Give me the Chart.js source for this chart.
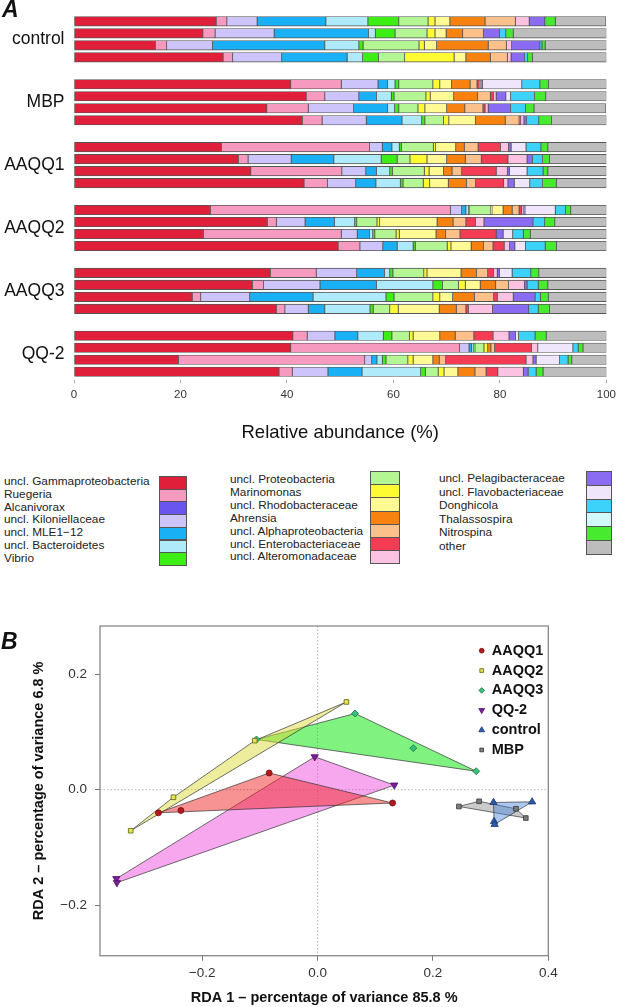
<!DOCTYPE html>
<html>
<head>
<meta charset="utf-8">
<script src="https://cdn.jsdelivr.net/npm/chart.js"></script>
<style>
  html, body { margin: 0; padding: 0; background: #fff; }
  #page { position: relative; width: 621px; height: 1007px; overflow: hidden;
          font-family: "Liberation Sans", Arial, sans-serif; color: #111; }
  canvas { position: absolute; left: 0; display: block; }
  #chartA { top: 0; }
  #chartB { top: 600px; }
  .panel { position: absolute; font-weight: bold; font-style: italic; font-size: 23px; line-height: 23px; }
  .legtext { position: absolute; font-size: 11.8px; color: #222; white-space: nowrap; }
  .legbox { position: absolute; box-sizing: border-box; border: 1px solid #555; }
</style>
</head>
<body>
<div id="page">
  <canvas id="chartA" width="621" height="450"></canvas>
  <canvas id="chartB" width="621" height="407"></canvas>
  <div class="panel" style="left:2px; top:-2px;">A</div>
  <div class="panel" style="left:1px; top:630px;">B</div>
  <div id="legendA"></div>
</div>
<script>
// panel A: taxa (stack order) and their colours
const categories = [
  "uncl. Gammaproteobacteria", "Ruegeria", "Alcanivorax", "uncl. Kiloniellaceae",
  "uncl. MLE1\u221212", "uncl. Bacteroidetes", "Vibrio", "uncl. Proteobacteria",
  "Marinomonas", "uncl. Rhodobacteraceae", "Ahrensia", "uncl. Alphaproteobacteria",
  "uncl. Enterobacteriaceae", "uncl. Alteromonadaceae", "uncl. Pelagibacteraceae",
  "uncl. Flavobacteriaceae", "Donghicola", "Thalassospira", "Nitrospina", "other"
];
const colors = [
  "#e0203a", "#f79ac0", "#6a55ee", "#ccc4fa", "#1ab0f5", "#aeeafa", "#3cee14",
  "#b4f594", "#fffb33", "#fffa94", "#f7820f", "#fcc08a", "#f43c55", "#fbc2e2",
  "#8a6cf2", "#efe6fb", "#3dd2fa", "#d2fafa", "#48ea30", "#bdbdbd"
];
const groups = ["control", "MBP", "AAQQ1", "AAQQ2", "AAQQ3", "QQ-2"];
const xTicks = [0, 20, 40, 60, 80, 100];

// relative abundance (%) per sample, same order as categories
const control = [
  [26.7, 2.0, 0, 5.7, 12.9, 7.9, 5.8, 5.5, 1.3, 2.8, 6.6, 5.7, 0, 2.6, 2.9, 0, 0.2, 0, 1.8, 9.5],
  [24.2, 2.3, 0, 11.1, 17.7, 1.3, 3.7, 6.0, 1.5, 2.1, 3.1, 3.9, 0, 0, 3.0, 0, 1.2, 0, 1.4, 17.5],
  [15.3, 2.1, 0, 8.6, 21.1, 6.4, 0.8, 10.5, 1.0, 2.3, 9.7, 3.4, 0, 1.0, 5.3, 0, 0.4, 0, 0.6, 11.5],
  [28.0, 1.8, 0, 9.2, 12.3, 2.9, 3.0, 4.9, 9.3, 2.2, 4.6, 3.2, 0, 0.7, 2.5, 0, 0.6, 0, 0.9, 13.9]
];
const mbp = [
  [40.7, 9.5, 0, 6.9, 1.8, 1.4, 0.7, 6.4, 1.3, 2.2, 3.5, 1.3, 0.4, 0.3, 0.3, 7.4, 3.4, 0, 1.6, 10.9],
  [43.6, 3.5, 0, 6.4, 3.3, 2.8, 0.5, 6.0, 0.8, 4.4, 4.5, 2.4, 0.6, 0.5, 1.8, 0.9, 4.5, 0, 2.1, 11.4],
  [36.2, 7.8, 0, 8.5, 6.4, 1.3, 0.8, 3.6, 1.3, 4.1, 3.4, 3.4, 0.4, 0.6, 4.2, 0, 2.8, 0, 1.6, 13.5],
  [42.9, 3.7, 0, 8.3, 6.7, 3.7, 0.6, 3.5, 1.0, 5.0, 5.6, 2.6, 0.3, 0.6, 0.5, 0, 2.3, 0, 2.4, 10.3]
];
const aaqq1 = [
  [27.7, 27.8, 0, 2.4, 1.8, 1.4, 0.4, 6.0, 0.4, 3.8, 1.6, 2.6, 4.2, 1.5, 0.5, 2.8, 2.8, 0, 1.3, 11.0],
  [30.9, 1.8, 0, 8.1, 8.0, 8.9, 3.0, 2.4, 3.2, 3.7, 3.5, 3.0, 5.0, 3.6, 1.0, 0, 1.9, 0, 1.3, 10.7],
  [33.2, 17.1, 0, 4.5, 2.0, 2.5, 0.5, 6.0, 0.9, 2.7, 1.6, 1.8, 6.5, 2.1, 0.4, 3.3, 3.0, 0, 0.9, 11.0],
  [43.2, 4.4, 0, 5.3, 3.8, 4.6, 0.5, 3.8, 1.2, 3.5, 3.4, 1.7, 5.3, 0.8, 1.2, 2.9, 2.4, 0, 2.6, 9.4]
];
const aaqq2 = [
  [25.6, 45.1, 0, 2.1, 0.8, 0.5, 0.2, 4.0, 0.2, 2.1, 1.7, 1.3, 0.5, 0.4, 0.2, 5.7, 1.9, 0, 1.0, 6.7],
  [36.3, 1.7, 0, 5.4, 5.5, 3.8, 0.4, 3.8, 0.5, 10.8, 3.0, 2.4, 1.8, 1.6, 9.2, 0, 2.2, 0, 1.9, 9.7],
  [24.3, 25.9, 0, 3.0, 2.3, 0.6, 0.4, 4.0, 0.6, 6.9, 1.8, 2.7, 6.8, 0, 1.3, 1.8, 2.0, 0, 1.3, 14.3],
  [49.6, 4.1, 0, 4.3, 2.7, 3.0, 0.4, 6.0, 0.7, 3.8, 2.3, 1.8, 2.1, 1.0, 1.0, 2.0, 3.7, 0, 2.1, 9.4]
];
const aaqq3 = [
  [36.9, 8.6, 0, 7.6, 5.2, 1.0, 0.6, 5.8, 0.6, 6.4, 2.9, 2.1, 1.1, 0.7, 0.4, 2.4, 3.5, 0, 1.5, 12.7],
  [33.5, 2.1, 0, 10.6, 10.6, 10.6, 1.8, 3.0, 1.3, 2.8, 2.9, 2.4, 0, 3.0, 0.5, 0, 2.1, 0, 1.8, 11.0],
  [22.2, 1.6, 0, 9.2, 11.9, 13.7, 1.5, 7.3, 1.3, 2.4, 4.1, 3.6, 0.7, 3.0, 4.1, 0, 1.0, 0, 1.5, 10.9],
  [38.0, 1.6, 0, 4.4, 3.1, 8.5, 0.6, 3.1, 1.6, 7.7, 3.2, 1.8, 0.5, 4.5, 6.8, 0, 1.8, 0, 2.1, 10.7]
];
const qq2 = [
  [41.1, 2.7, 0, 5.2, 4.3, 4.8, 1.6, 3.3, 0.7, 5.0, 2.9, 3.5, 3.6, 3.0, 1.2, 0.6, 3.1, 0, 2.1, 11.3],
  [40.7, 31.7, 0, 1.8, 0.5, 0.4, 0.2, 1.7, 0.7, 0, 0.6, 0.7, 6.9, 1.2, 0, 6.6, 1.0, 0, 0.9, 4.4],
  [19.6, 35.0, 0, 1.3, 1.0, 1.0, 0.7, 4.1, 1.0, 3.7, 1.2, 1.2, 15.1, 1.3, 0.6, 4.4, 1.6, 0, 0.7, 6.5],
  [38.5, 2.5, 0, 6.7, 6.4, 11.0, 0.9, 2.4, 1.1, 2.6, 3.2, 2.1, 2.2, 4.8, 0.9, 0, 1.5, 0, 1.3, 11.9]
];
const samples = [control, mbp, aaqq1, aaqq2, aaqq3, qq2];

// panel B: RDA site scores
const aaqq1X = [-0.084, -0.276, -0.237, 0.130];
const aaqq1Y = [0.029, -0.040, -0.036, -0.023];
const aaqq2X = [-0.324, -0.250, -0.109, 0.050];
const aaqq2Y = [-0.071, -0.013, 0.085, 0.152];
const aaqq3X = [-0.106, 0.065, 0.166, 0.275];
const aaqq3Y = [0.087, 0.132, 0.072, 0.032];
const qq2X = [-0.005, 0.133, -0.349, -0.348];
const qq2Y = [0.057, 0.008, -0.154, -0.161];
const controlX = [0.305, 0.372, 0.306, 0.307];
const controlY = [-0.022, -0.021, -0.055, -0.060];
const mbpX = [0.245, 0.280, 0.344, 0.361];
const mbpY = [-0.029, -0.020, -0.033, -0.049];
const xTicksB = [-0.2, 0, 0.2, 0.4];
const yTicksB = [-0.2, 0, 0.2];

const FONT = '"Liberation Sans", Arial, sans-serif';
Chart.defaults.font.family = FONT;

// ---------- panel A ----------
const GROUP_STEP = 5.24;   // rows per group incl. gap
const rowPos = (g, i) => g * GROUP_STEP + i;

const barDatasets = categories.map((name, c) => ({
  label: name,
  backgroundColor: colors[c],
  borderColor: "#555",
  borderWidth: 0.8,
  borderSkipped: false,
  barThickness: 9.4,
  data: samples
    .flatMap((rows, g) => rows.map((r, i) => ({ x: r[c], y: rowPos(g, i) })))
    .filter(p => p.x > 0)
}));

const groupLabels = {
  id: "groupLabels",
  afterDraw(chart) {
    const { ctx, chartArea, scales: { y } } = chart;
    ctx.save();
    ctx.font = "17.5px " + FONT;
    ctx.fillStyle = "#111";
    ctx.textAlign = "right";
    ctx.textBaseline = "middle";
    groups.forEach((g, k) => {
      ctx.fillText(g, chartArea.left - 9.5, y.getPixelForValue(rowPos(k, 1.5)));
    });
    ctx.restore();
  }
};

new Chart(document.getElementById("chartA"), {
  type: "bar",
  data: { datasets: barDatasets },
  options: {
    responsive: false,
    animation: false,
    indexAxis: "y",
    layout: { padding: { left: 74, right: 9, top: 5.75, bottom: 0 } },
    plugins: { legend: { display: false }, tooltip: { enabled: false } },
    scales: {
      x: {
        type: "linear", stacked: true, min: 0, max: 100, offset: false,
        afterBuildTicks: s => { s.ticks = xTicks.map(v => ({ value: v })); },
        afterFit: s => { s.height = 69.85; },
        grid: { drawOnChartArea: false, drawTicks: true, tickLength: 3, color: "#aaa" },
        border: { display: false },
        ticks: { padding: 5, font: { size: 11.5 }, color: "#333", maxRotation: 0 },
        title: { display: true, text: "Relative abundance (%)", font: { size: 18.5 },
                 color: "#111", padding: { top: 0, bottom: 5.9 } }
      },
      y: {
        type: "linear", stacked: true, reverse: true, min: -1.3, max: 29.9,
        offset: false, display: false, grid: { offset: false }
      }
    }
  },
  plugins: [groupLabels]
});

// legend for panel A, three columns, text left and colour box right
const legendCols = [
  { start: 0, count: 7, textX: 4, boxX: 159, boxW: 28, top: 476, boxH: 12.7, textTop: 481, pitch: 12.8 },
  { start: 7, count: 7, textX: 230, boxX: 370, boxW: 29.5, top: 471, boxH: 13.2, textTop: 479, pitch: 12.9 },
  { start: 14, count: 6, textX: 439, boxX: 586, boxW: 26, top: 471, boxH: 13.8, textTop: 478.3, pitch: 13.5 }
];
const legendA = document.getElementById("legendA");
legendCols.forEach(col => {
  for (let k = 0; k < col.count; k++) {
    const c = col.start + k;
    const t = document.createElement("div");
    t.className = "legtext";
    t.textContent = categories[c];
    t.style.left = col.textX + "px";
    t.style.top = (col.textTop + k * col.pitch - 7) + "px";
    t.style.lineHeight = "14px";
    legendA.appendChild(t);
    const b = document.createElement("div");
    b.className = "legbox";
    b.style.left = col.boxX + "px";
    b.style.width = col.boxW + "px";
    b.style.top = (col.top + k * col.boxH) + "px";
    b.style.height = (col.boxH + 1) + "px";
    b.style.background = colors[c];
    legendA.appendChild(b);
  }
});

// ---------- panel B ----------
const groupsB = [
  { label: "AAQQ1", xs: aaqq1X, ys: aaqq1Y, style: "circle", r: 3, rot: 0,
    point: "#b3191c", edge: "#7d0c0e", fill: "rgba(240,40,40,0.5)" },
  { label: "AAQQ2", xs: aaqq2X, ys: aaqq2Y, style: "rect", r: 3.3, rot: 0,
    point: "#e2e255", edge: "#5c6410", fill: "rgba(220,220,60,0.5)" },
  { label: "AAQQ3", xs: aaqq3X, ys: aaqq3Y, style: "rectRot", r: 3.5, rot: 0,
    point: "#36c27a", edge: "#1f6e42", fill: "rgba(0,230,0,0.5)" },
  { label: "QQ-2", xs: qq2X, ys: qq2Y, style: "triangle", r: 4.2, rot: 180,
    point: "#7a2096", edge: "#4e0f66", fill: "rgba(240,80,220,0.5)" },
  { label: "control", xs: controlX, ys: controlY, style: "triangle", r: 4.2, rot: 0,
    point: "#2c5aa6", edge: "#1a3a74", fill: "rgba(70,130,220,0.45)" },
  { label: "MBP", xs: mbpX, ys: mbpY, style: "rect", r: 3.3, rot: 0,
    point: "#7c7c7c", edge: "#333", fill: "rgba(140,140,140,0.45)" }
];

function hull(pts) {
  const p = pts.slice().sort((a, b) => a.x - b.x || a.y - b.y);
  const cross = (o, a, b) => (a.x - o.x) * (b.y - o.y) - (a.y - o.y) * (b.x - o.x);
  const lower = [], upper = [];
  for (const q of p) {
    while (lower.length >= 2 && cross(lower[lower.length - 2], lower[lower.length - 1], q) <= 0) lower.pop();
    lower.push(q);
  }
  for (const q of p.slice().reverse()) {
    while (upper.length >= 2 && cross(upper[upper.length - 2], upper[upper.length - 1], q) <= 0) upper.pop();
    upper.push(q);
  }
  const h = lower.slice(0, -1).concat(upper.slice(0, -1));
  return h.concat([h[0]]);
}

const datasetsB = [];
groupsB.forEach(g => {
  const pts = g.xs.map((x, i) => ({ x, y: g.ys[i] }));
  datasetsB.push({
    type: "line", label: g.label + " hull", data: hull(pts), order: 1,
    showLine: true, tension: 0, fill: "shape", backgroundColor: g.fill,
    borderColor: "#333", borderWidth: 0.7, pointRadius: 0
  });
  datasetsB.push({
    type: "scatter", label: g.label, data: pts, order: 0,
    pointStyle: g.style, pointRadius: g.r, pointRotation: g.rot,
    pointBackgroundColor: g.point, pointBorderColor: g.edge, pointBorderWidth: 0.8
  });
});

const fmtB = v => (Math.abs(v) < 1e-9 ? "0.0" : v.toFixed(1).replace("-", "\u2212"));

const frameB = {
  id: "frameB",
  beforeDatasetsDraw(chart) {
    const { ctx, chartArea: a, scales: { x, y } } = chart;
    const x0 = x.getPixelForValue(0), y0 = y.getPixelForValue(0);
    ctx.save();
    ctx.strokeStyle = "#9a9a9a";
    ctx.lineWidth = 0.8;
    ctx.setLineDash([1.5, 2]);
    ctx.beginPath();
    ctx.moveTo(x0, a.top); ctx.lineTo(x0, a.bottom);
    ctx.moveTo(a.left, y0); ctx.lineTo(a.right, y0);
    ctx.stroke();
    ctx.restore();
  },
  afterDraw(chart) {
    const { ctx, chartArea: a } = chart;
    ctx.save();
    ctx.strokeStyle = "#888";
    ctx.lineWidth = 1.3;
    ctx.strokeRect(a.left, a.top, a.right - a.left, a.bottom - a.top);
    // legend, top right inside the frame
    groupsB.forEach((g, i) => {
      const lx = a.right - 66.6, ly = a.top + 24.7 + i * 19.85;
      ctx.fillStyle = g.point;
      ctx.strokeStyle = g.edge;
      ctx.lineWidth = 0.8;
      Chart.helpers.drawPoint(ctx, { pointStyle: g.style, radius: g.r * 0.8, borderWidth: 0.8, rotation: g.rot }, lx, ly);
      ctx.fillStyle = "#111";
      ctx.font = "bold 14.5px " + FONT;
      ctx.textAlign = "left";
      ctx.textBaseline = "middle";
      ctx.fillText(g.label, lx + 10, ly);
    });
    ctx.restore();
  }
};

new Chart(document.getElementById("chartB"), {
  type: "scatter",
  data: { datasets: datasetsB },
  options: {
    responsive: false,
    animation: false,
    layout: { padding: { left: 30, right: 72.7, top: 26, bottom: 0 } },
    plugins: { legend: { display: false }, tooltip: { enabled: false } },
    scales: {
      x: {
        type: "linear", min: -0.3773, max: 0.4, offset: false,
        afterBuildTicks: s => { s.ticks = xTicksB.map(v => ({ value: v })); },
        afterFit: s => { s.height = 51.3; },
        grid: { drawOnChartArea: false, drawTicks: true, tickLength: 5, color: "#777" },
        border: { display: false },
        ticks: { padding: 4.2, font: { size: 13.5 }, color: "#333", maxRotation: 0, callback: fmtB },
        title: { display: true, text: "RDA 1 \u2013 percentage of variance 85.8 %",
                 font: { size: 14.5, weight: "bold" }, color: "#111", padding: { top: 0, bottom: 0.3 } }
      },
      y: {
        type: "linear", min: -0.2874, max: 0.2835, offset: false,
        afterBuildTicks: s => { s.ticks = yTicksB.map(v => ({ value: v })); },
        afterFit: s => { s.width = 70; },
        grid: { drawOnChartArea: false, drawTicks: true, tickLength: 5, color: "#777" },
        border: { display: false },
        ticks: { padding: 8, font: { size: 13.5 }, color: "#333", callback: fmtB },
        title: { display: true, text: "RDA 2 \u2013 percentage of variance 6.8 %",
                 font: { size: 14.5, weight: "bold" }, color: "#111", padding: { top: 0, bottom: 0 } }
      }
    }
  },
  plugins: [frameB]
});
</script>
</body>
</html>
